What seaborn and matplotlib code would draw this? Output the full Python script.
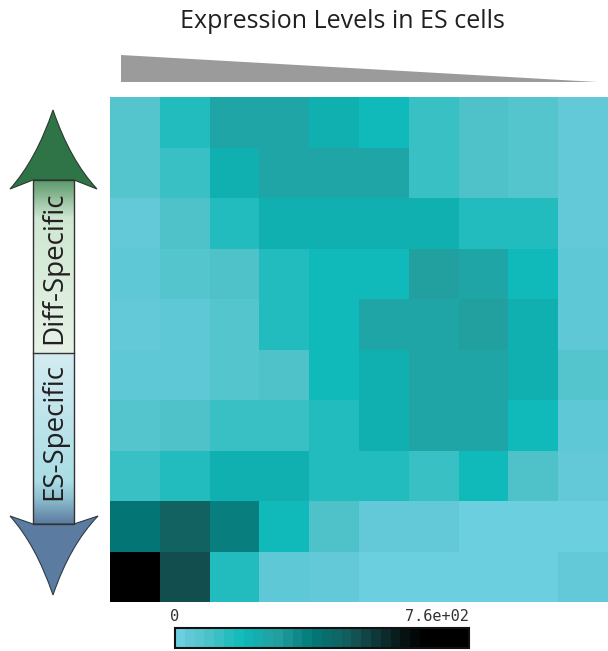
import numpy as np
import pandas as pd
import seaborn as sns
import matplotlib.pyplot as plt
from matplotlib.colors import LinearSegmentedColormap, Normalize
from matplotlib.cm import ScalarMappable
from matplotlib.path import Path
from matplotlib.patches import PathPatch, Polygon, Rectangle

# heatmap values (rows top -> bottom), colour scale 0 .. 760
row0 = [61, 137, 236, 236, 198, 167, 106, 76, 61, 23]
row1 = [61, 106, 198, 236, 236, 236, 106, 76, 61, 23]
row2 = [23, 76, 137, 198, 198, 198, 198, 137, 137, 23]
row3 = [38, 61, 76, 137, 167, 167, 258, 236, 167, 38]
row4 = [23, 38, 61, 137, 167, 236, 236, 258, 198, 38]
row5 = [38, 38, 61, 76, 167, 198, 236, 236, 198, 61]
row6 = [61, 76, 106, 106, 137, 198, 236, 236, 167, 38]
row7 = [106, 137, 198, 198, 137, 137, 106, 167, 76, 23]
row8 = [365, 433, 342, 167, 76, 23, 23, 0, 0, 0]
row9 = [760, 479, 137, 38, 23, 0, 0, 0, 0, 23]
vmax = 760
cbar_labels = ['0', '7.6e+02']

df = pd.DataFrame([row0, row1, row2, row3, row4, row5, row6, row7, row8, row9])

# colour map: light cyan -> teal -> black
stops = [0, 0.03, 0.05, 0.08, 0.10, 0.14, 0.18, 0.22, 0.26, 0.31, 0.34,
         0.45, 0.48, 0.57, 0.63, 0.75, 0.85, 1.0]
cols = ['#6ccfdf', '#62c8d8', '#5ec8d6', '#55c5cc', '#4dc2c8', '#37c0c4',
        '#22bcbe', '#10baba', '#11b0b0', '#1fa5a5', '#22a0a0', '#087e7e',
        '#047575', '#126262', '#124f4f', '#0a2020', '#000000', '#000000']
cmap = LinearSegmentedColormap.from_list('es', list(zip(stops, cols)))

W, H = 608, 651
fig = plt.figure(figsize=(W / 100, H / 100), dpi=100)

# overlay in pixel coordinates for title, wedge and arrow
ov = fig.add_axes([0, 0, 1, 1])
ov.axis('off')

ov.text(342, 22, 'Expression Levels in ES cells', ha='center', va='center',
        fontsize=18, family='Open Sans', color='#231f20')
ov.add_patch(Polygon([(121, 55), (597, 82), (121, 82)], closed=True,
                     facecolor='#9a9b9a', edgecolor='none'))

# up arrow head (green)
up = Path([(53, 110), (70, 160), (97, 189), (74, 180), (33, 180), (10, 189),
           (36, 160), (53, 110), (53, 110)],
          [Path.MOVETO, Path.CURVE3, Path.CURVE3, Path.LINETO, Path.LINETO,
           Path.LINETO, Path.CURVE3, Path.CURVE3, Path.CLOSEPOLY])
ov.add_patch(PathPatch(up, facecolor='#2f7446', edgecolor='#2a3a2e', lw=0.8))
# down arrow head (blue)
dn = Path([(53, 595), (70, 545), (98, 516), (74, 524), (33, 524), (10, 516),
           (36, 545), (53, 595), (53, 595)],
          [Path.MOVETO, Path.CURVE3, Path.CURVE3, Path.LINETO, Path.LINETO,
           Path.LINETO, Path.CURVE3, Path.CURVE3, Path.CLOSEPOLY])
ov.add_patch(PathPatch(dn, facecolor='#5b7ca0', edgecolor='#2e3a48', lw=0.8))

# shaft gradients
g_top = LinearSegmentedColormap.from_list('g', [(0, '#5e9a6c'), (0.22, '#cfe7d2'), (1, '#e6f2e6')])
g_bot = LinearSegmentedColormap.from_list('b', [(0, '#d3ecf1'), (0.75, '#aadde5'), (0.85, '#8fc0d0'), (1, '#5b7ca0')])
grad = np.linspace(0, 1, 200)[:, None]
ov.imshow(grad, cmap=g_top, extent=[33, 74, 353, 180], origin='upper', aspect='auto')
ov.imshow(grad, cmap=g_bot, extent=[33, 74, 524, 353], origin='upper', aspect='auto')
ov.set_xlim(0, W)
ov.set_ylim(H, 0)
ov.add_patch(Rectangle((33, 180), 41, 344, facecolor='none', edgecolor='#333333', lw=1))
ov.plot([33, 74], [353, 353], color='#333333', lw=1)
ov.text(54, 268, 'Diff-Specific', rotation=90, ha='center', va='center',
        fontsize=20, family='Open Sans', color='#231f20')
ov.text(54, 432, 'ES-Specific', rotation=90, ha='center', va='center',
        fontsize=20, family='Open Sans', color='#231f20')

# heatmap
ax = fig.add_axes([110 / W, (H - 602) / H, 498 / W, 505 / H])
sns.heatmap(df, ax=ax, cmap=cmap, vmin=0, vmax=vmax, cbar=False,
            xticklabels=False, yticklabels=False)

# colour bar (stepped)
cax = fig.add_axes([175 / W, (H - 648) / H, 294 / W, 20 / H])
sm = ScalarMappable(norm=Normalize(0, vmax), cmap=cmap.resampled(30))
cb = fig.colorbar(sm, cax=cax, orientation='horizontal')
cb.outline.set_linewidth(1.5)
cb.outline.set_edgecolor('#111111')
cax.xaxis.set_ticks_position('top')
cax.set_xticks([0, vmax])
cax.set_xticklabels(cbar_labels, family='DejaVu Sans Mono', fontsize=11, color='#333333')
cax.tick_params(length=0, pad=3)
cax.get_xticklabels()[1].set_ha('right')

fig.savefig('out.png', dpi=100)
